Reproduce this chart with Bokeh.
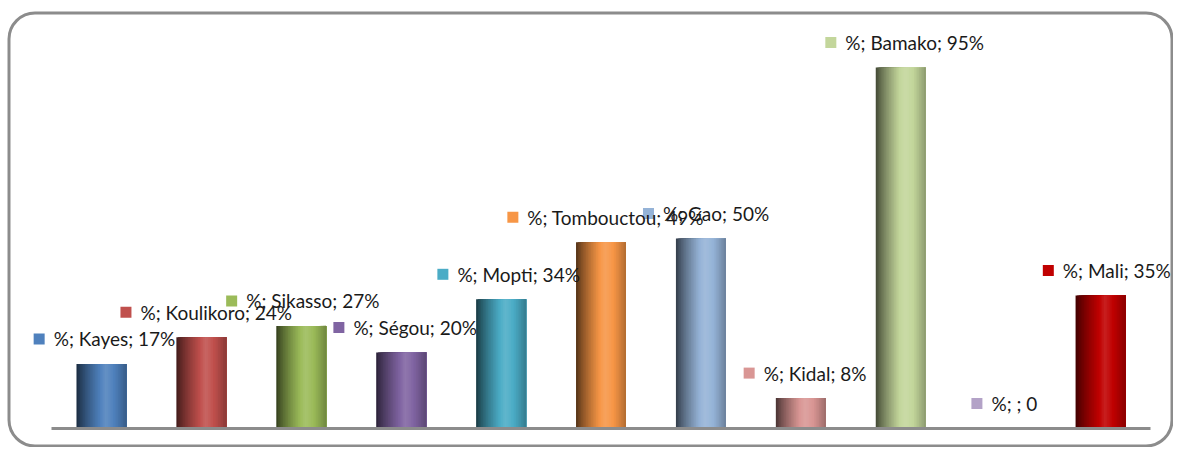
from bokeh.plotting import figure
from bokeh.embed import file_html
from bokeh.resources import INLINE
from bokeh.core.properties import value

# ---- data ----
regions = ["Kayes", "Koulikoro", "Sikasso", "Ségou", "Mopti", "Tombouctou",
           "Gao", "Kidal", "Bamako", "", "Mali"]
percent = [17, 24, 27, 20, 34, 49, 50, 8, 95, 0, 35]
colors = ["#4F81BD", "#C0504D", "#9BBB59", "#8064A2", "#4BACC6", "#F79646",
          "#95B3D7", "#D99694", "#C3D69B", "#B3A2C7", "#C00000"]

# ---- layout (pixels inside the canvas) ----
W, H = 1173, 447
PL, PR, PB = 51, 23, 19          # plot area margins (left, right, bottom)
N = len(regions)
YMAX = 100
pxx = (W - PL - PR) / N          # px per category
pxy = 3.8                        # px per percent
FONT = "Lato"
FS = 19

xs, xe = -PL / pxx, N + PR / pxx
ys = -PB / pxy
ye = (H - PB) / pxy

p = figure(width=W, height=H, x_range=(xs, xe), y_range=(ys, ye),
           output_backend="svg", toolbar_location=None,
           min_border=0, min_border_left=0, min_border_right=0,
           min_border_top=0, min_border_bottom=0)
p.outline_line_color = None
p.xgrid.visible = False
p.ygrid.visible = False
p.xaxis.visible = False
p.yaxis.visible = False

# rounded chart border
p.quad(left=xs + 8.5 / pxx, right=xe - 1.5 / pxx,
       bottom=ys + 1.5 / pxy, top=ye - 12.5 / pxy,
       fill_color=None, line_color="#8c8c8c", line_width=3, border_radius=26)


def hex2rgb(h):
    h = h.lstrip("#")
    return [int(h[i:i + 2], 16) for i in (0, 2, 4)]


def shade(h, f):
    r = hex2rgb(h)
    if f <= 1:
        c = [int(v * f) for v in r]
    else:
        t = f - 1
        c = [int(v + (255 - v) * t) for v in r]
    return "#%02x%02x%02x" % tuple(max(0, min(255, v)) for v in c)


def profile(t):
    # cylinder-like horizontal shading
    if t < 0.58:
        return 0.32 + (1.12 - 0.32) * (t / 0.58) ** 0.8
    return 1.12 - (1.12 - 0.72) * ((t - 0.58) / 0.42) ** 1.3


BAR_W = 0.5
NS = 30
L, R, T, C = [], [], [], []
for i, (v, col) in enumerate(zip(percent, colors)):
    if v <= 0:
        continue
    x0 = i + 0.5 - BAR_W / 2
    for k in range(NS):
        t = (k + 0.5) / NS
        L.append(x0 + BAR_W * k / NS)
        R.append(x0 + BAR_W)
        T.append(v)
        C.append(shade(col, profile(t)))
p.quad(left=L, right=R, bottom=0, top=T, fill_color=C, line_color=None)

# baseline (category axis line)
p.segment(x0=[0], y0=[0], x1=[N], y1=[0], line_color="#8c8c8c", line_width=3)


def text_w(s, fs):
    w = 0
    for ch in s:
        if ch in "ijl;:,.! ":
            w += 0.25
        elif ch in "frt":
            w += 0.36
        elif ch in "mw":
            w += 0.8
        elif ch == "%":
            w += 0.76
        elif ch.isdigit():
            w += 0.58
        elif ch.isupper():
            w += 0.64
        else:
            w += 0.52
    return w * fs


SQ = 11
GAP = 9
LAB_DY = 25
sx, sy, tx, ty, txt = [], [], [], [], []
for i, (name, v) in enumerate(zip(regions, percent)):
    s = f"%; {name}; {v}%" if v else f"%; {name}; {v}"
    tw = text_w(s, FS)
    total = SQ + GAP + tw
    cx = i + 0.5
    left_px = -total / 2 + 3
    sx.append(cx + (left_px + SQ / 2) / pxx)
    sy.append(v + LAB_DY / pxy)
    tx.append(cx + (left_px + SQ + GAP) / pxx)
    ty.append(v)
    txt.append(s)

p.rect(x=sx, y=sy, width=SQ, height=SQ, width_units="screen",
       height_units="screen", fill_color=colors, line_color=None)
p.text(x=tx, y=ty, text=txt, y_offset=-LAB_DY, text_baseline="middle",
       text_align="left", text_font=value(FONT), text_font_size=f"{FS}px",
       text_color="#1a1a1a")

open("out.html", "w").write(file_html(p, INLINE))
